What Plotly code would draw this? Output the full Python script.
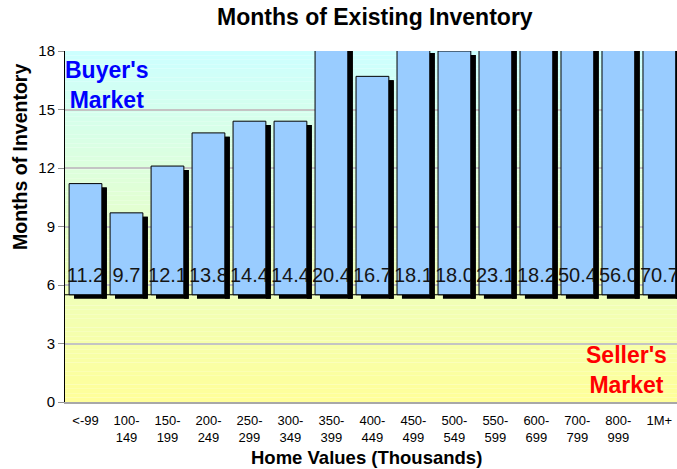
import plotly.graph_objects as go

# ---- data ----
categories = ["<-99", "100-<br>149", "150-<br>199", "200-<br>249", "250-<br>299",
              "300-<br>349", "350-<br>399", "400-<br>449", "450-<br>499", "500-<br>549",
              "550-<br>599", "600-<br>699", "700-<br>799", "800-<br>999", "1M+"]
months = [11.2, 9.7, 12.1, 13.8, 14.4, 14.4, 20.4, 16.7, 18.1, 18.0, 23.1, 18.2, 50.4, 56.0, 70.7]
y_ticks = [0, 3, 6, 9, 12, 15, 18]
BASE = 5.5          # bars grow from the buyer/seller divide

# ---- style constants ----
FONT = "Liberation Sans, Arial, sans-serif"
BAR_W = 0.80
SHX = 0.12          # shadow offset (x, category units)
SHY = 0.20          # shadow offset (y, months)
LABEL_BASE = 5.8

x = list(range(len(categories)))
heights = [v - BASE for v in months]

fig = go.Figure()

# shadow
fig.add_trace(go.Bar(x=[i + SHX for i in x], y=heights, base=BASE - SHY, width=BAR_W,
                     marker=dict(color="black", line=dict(width=0)), hoverinfo="skip",
                     showlegend=False))
# main bars
fig.add_trace(go.Bar(x=x, y=heights, base=BASE, width=BAR_W,
                     marker=dict(color="#99CCFF", line=dict(color="black", width=1)),
                     showlegend=False))
# value labels (transparent bars carrying text)
fig.add_trace(go.Bar(x=x, y=[v - LABEL_BASE for v in months], base=LABEL_BASE, width=BAR_W,
                     marker=dict(color="rgba(0,0,0,0)", line=dict(width=0)),
                     text=[f"{v:.1f}" for v in months], textposition="inside",
                     insidetextanchor="start", textangle=0, constraintext="none",
                     textfont=dict(family=FONT, size=20, color="#151515"),
                     hoverinfo="skip", showlegend=False))
# right-hand shadow strip drawn over the labels
fig.add_trace(go.Bar(x=[i + BAR_W / 2 + SHX / 2 for i in x], y=heights, base=BASE - SHY,
                     width=SHX, marker=dict(color="black", line=dict(width=0)),
                     hoverinfo="skip", showlegend=False))

# background gradient (cyan top -> yellow bottom)
shapes = []
N = 80
top = (204, 255, 255)
bot = (255, 255, 153)
for k in range(N):
    t = (k + 0.5) / N
    c = tuple(round(bot[j] + (top[j] - bot[j]) * t) for j in range(3))
    shapes.append(dict(type="rect", xref="x domain", yref="y domain",
                       x0=0, x1=1, y0=k / N, y1=(k + 1) / N,
                       fillcolor=f"rgb{c}", line=dict(width=0), layer="below"))
shapes.append(dict(type="line", xref="x domain", yref="y", x0=0, x1=1, y0=BASE, y1=BASE,
                   line=dict(color="black", width=1), layer="below"))


def ann(text, x, y, size, color="black", angle=0):
    return dict(text=text, xref="paper", yref="paper", x=x, y=y, xanchor="center",
                yanchor="middle", align="center", showarrow=False, textangle=angle,
                font=dict(family=FONT, size=size, color=color))


annotations = [
    ann("<b>Months of Existing Inventory</b>", 0.5065, 1.097, 23),
    ann("<b>Months of Inventory</b>", -0.0735, 0.698, 19.5, angle=-90),
    ann("<b>Home Values (Thousands)</b>", 0.492, -0.157, 18.5),
    ann("<b>Buyer's<br>Market</b>", 0.0686, 0.903, 23, "#0000FF"),
    ann("<b>Seller's<br>Market</b>", 0.918, 0.091, 23, "#FF0000"),
]

fig.update_layout(
    width=677, height=469,
    margin=dict(l=65, r=0, t=51, b=67, autoexpand=False),
    barmode="overlay",
    paper_bgcolor="white", plot_bgcolor="white",
    font=dict(family=FONT, color="black"),
    shapes=shapes, annotations=annotations,
    hovermode=False,
    xaxis=dict(range=[-0.5, 14.43], tickmode="array", tickvals=x, ticktext=categories,
               tickfont=dict(size=13, color="black"), showgrid=False, zeroline=False,
               showline=True, linecolor="#A8A8A8", linewidth=2, ticks="outside",
               ticklen=5, tickcolor="rgba(0,0,0,0)", automargin=False),
    yaxis=dict(range=[0, 18], tickmode="array", tickvals=y_ticks,
               tickfont=dict(size=15, color="black"), showgrid=True, gridcolor="#C4C4C4",
               gridwidth=2, zeroline=False, showline=True, linecolor="black", linewidth=1,
               ticks="outside", ticklen=6, tickcolor="#909090", automargin=False),
)

fig.write_html("out.html", config={"displayModeBar": False},
               post_script="document.body.style.margin='0';")
